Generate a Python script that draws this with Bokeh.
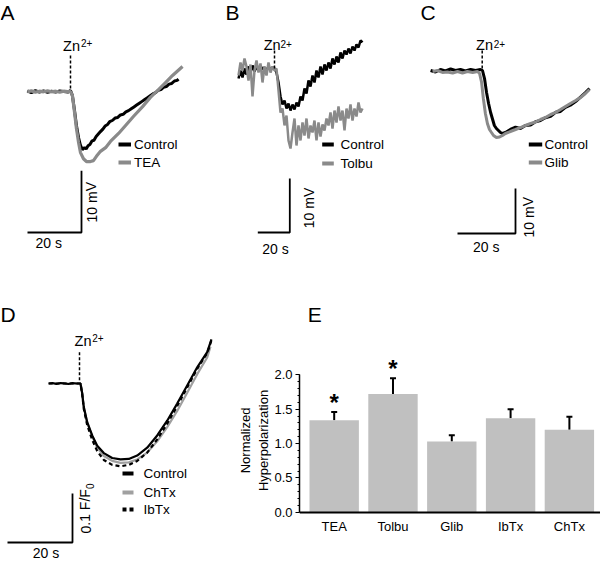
from bokeh.plotting import figure
from bokeh.layouts import row, column
from bokeh.models import (Range1d, SingleIntervalTicker, PrintfTickFormatter,
                          FixedTicker, Whisker, TeeHead, ColumnDataSource)
from bokeh.core.properties import value
from bokeh.embed import file_html
from bokeh.resources import INLINE

# ---------------- data ----------------
# Panel A: membrane potential (mV, relative to baseline) vs time (s, 0 = Zn2+)
A_t_ctrl = [-16, -14.5, -13, -11.5, -10, -8.5, -7, -5.5, -4, -2.5, -1, 0, 0.7, 1.5, 2.2, 3.0, 3.7, 4.4,
            5.2, 5.8, 6.5, 7.2, 8.0, 8.7, 9.5, 10.3, 11.1, 12.0, 12.8, 13.6, 14.5,
            15.5, 16.5, 17.5, 18.5, 19.5, 20.5, 21.5, 22.5, 23.5, 24.5, 25.5, 26.5, 27.5, 28.5, 29.5,
            30.5, 31.5, 32.5, 33.5, 34.5, 35.5, 36.5, 37.5, 38.5, 39.5, 40.0]
A_ctrl = [0.1, -0.2, 0.15, -0.1, 0.1, -0.15, 0.05, -0.1, 0.1, 0.0, -0.1, 0.15, -0.65, -3.1, -5.5, -7.5, -8.75, -9.4,
          -9.1, -9.3, -8.8, -8.6, -8.0, -7.9, -7.3, -6.9, -6.5, -6.1, -5.6, -5.4, -4.9,
          -4.7, -4.3, -4.2, -3.8, -3.7, -3.3, -3.1, -2.8, -2.5, -2.2, -1.9, -1.6, -1.3, -1.0, -0.7,
          -0.4, -0.2, 0.2, 0.3, 0.7, 0.8, 1.2, 1.3, 1.7, 1.8, 2.0]
A_t_tea = [-16, -14.5, -13, -11.5, -10, -8.5, -7, -5.5, -4, -2.5, -1, 0, 0.7, 1.5, 2.2, 3.0, 3.7, 4.8, 5.9,
           7.4, 8.5, 9.6, 11.1, 13.0, 14.8, 17.8, 20.4, 23.3, 26.7, 29.6, 32.6, 35.2, 37.8, 41.5]
A_tea = [-0.05, 0.1, -0.1, 0.05, -0.05, 0.1, -0.05, 0.05, -0.1, 0.05, 0.0, 0.0, -0.65, -3.4, -6.0, -8.3, -9.9,
         -10.9, -11.35, -11.35, -11.2, -10.5, -9.7, -9.1, -8.1, -6.8, -5.5, -4.05, -2.45, -0.95, 0.3, 1.45,
         2.6, 4.05]

# Panel B
B_t = [-22.5, -21.25, -20.0, -18.75, -17.5, -16.25, -15.0, -13.75, -12.5, -11.25, -10.0, -8.75, -7.5,
       -6.25, -5.0, -3.75, -2.5, -1.25, 0.0, 1.25, 2.5, 3.75, 5.0, 6.25, 7.5, 8.75, 10.0, 11.25, 12.5,
       13.75, 15.0, 16.25, 17.5, 18.75, 20.0, 21.25, 22.5, 23.75, 25.0, 26.25, 27.5, 28.75, 30.0, 31.25,
       32.5, 33.75, 35.0, 36.25, 37.5, 38.75, 40.0, 41.25, 42.5, 43.75, 45.0, 46.25, 47.5, 48.75, 50.0,
       51.25, 52.5, 53.75, 55.0]
B_ctrl = [-1.11, 0.37, -0.93, 0.74, -0.37, 1.11, 0.0, 1.30, 0.19, 1.11, 0.37, 1.30, 0.56, 0.93, 0.37, 1.11,
          0.56, 0.93, 0.74, 0.0, -1.85, -4.44, -5.93, -5.19, -6.67, -5.74, -7.04, -5.93, -6.85, -5.56,
          -6.30, -4.44, -5.19, -2.96, -3.89, -1.48, -2.59, -0.56, -1.85, 0.37, -0.93, 1.11, -0.37, 1.48,
          0.37, 1.85, 0.74, 2.59, 1.48, 2.96, 1.85, 3.70, 2.59, 4.07, 3.33, 4.44, 3.52, 4.81, 4.07, 5.19,
          4.63, 5.93, 5.56]
B_tolbu = [-0.56, 1.85, 0.37, 2.59, 1.11, -1.48, 1.48, -4.44, 0.37, 2.22, 0.0, 1.67, -1.85, 1.11, -0.56,
           1.85, 0.0, 1.11, 0.37, 0.74, -3.33, -7.41, -6.67, -9.81, -7.96, -12.59, -14.07, -11.11, -8.52,
           -13.52, -9.81, -12.59, -9.26, -11.67, -8.52, -12.22, -9.81, -11.11, -8.89, -12.59, -9.26,
           -11.85, -9.63, -10.74, -8.52, -9.81, -7.41, -10.37, -7.04, -9.26, -6.30, -8.89, -7.04, -10.74,
           -6.67, -8.52, -5.93, -8.89, -6.67, -8.15, -5.56, -7.41, -6.67]

# Panel C
C_t_ctrl = [-17.8, -16.1, -14.4, -12.7, -10.9, -9.2, -7.5, -5.8, -4.0, -2.3, -0.6, 0.1, 0.8, 1.5, 2.2, 2.9,
            3.6, 4.2, 4.9, 5.6, 6.3, 7.0, 8.0, 9.7, 11.5, 13.2, 14.9, 16.7, 18.4, 20.1, 21.8, 23.6, 25.3,
            27.0, 28.7, 30.4, 32.2, 33.9, 35.6, 37.0]
C_ctrl = [0.0, -0.33, 0.22, -0.11, 0.33, 0.0, 0.22, -0.11, 0.22, 0.0, 0.22, 0.0, -1.78, -4.89, -7.33, -9.33,
          -10.89, -12.22, -12.89, -13.33, -13.78, -14.0, -13.78, -13.11, -12.6, -12.9, -12.2, -12.1, -11.4,
          -11.1, -10.5, -10.2, -9.3, -9.1, -8.2, -7.7, -6.9, -5.9, -4.9, -4.0]
C_t_glib = [-17.1, -15.4, -13.7, -12.0, -10.2, -8.5, -6.8, -5.1, -3.3, -1.6, -0.9, -0.2, 0.4, 1.1, 1.8, 2.5,
            3.2, 3.9, 4.9, 6.0, 7.0, 8.0, 9.7, 11.5, 13.2, 14.9, 16.7, 18.4, 20.1, 21.8, 23.6, 25.3, 27.0,
            28.7, 30.4, 32.2, 33.9, 35.6, 37.0]
C_glib = [-0.22, 0.0, -0.44, -0.33, -0.56, -0.22, -0.56, -0.22, -0.44, -0.22, -0.67, -2.67, -6.22, -9.56,
          -11.78, -13.11, -13.78, -14.44, -14.89, -14.78, -14.44, -14.0, -13.56, -13.11, -12.67, -12.22,
          -11.78, -11.44, -10.89, -10.44, -9.78, -9.33, -8.67, -8.0, -7.33, -6.67, -6.0, -5.11, -4.22]

# Panel D: fluorescence (F/F0 change) vs time (s)
D_t_ctrl = [-9.5, -8.3, -7.1, -5.8, -4.6, -3.4, -2.2, -0.9, 0.3, 0.83, 1.32, 2.37, 3.91, 5.45, 7.48, 10.06,
            12.62, 15.17, 17.75, 20.83, 23.91, 26.98, 30.06, 33.14, 36.22, 39.29, 40.6]
D_ctrl = [0.0, 0.001, -0.001, 0.001, 0.0, -0.001, 0.001, 0.0, 0.0, -0.020, -0.048, -0.079, -0.106, -0.127,
          -0.142, -0.152, -0.155, -0.154, -0.147, -0.131, -0.106, -0.076, -0.041, -0.004, 0.033, 0.064, 0.090]
D_t_chtx = [-9.2, -7.0, -5.0, -3.0, -1.0, 0.3, 0.83, 1.32, 2.37, 3.91, 5.45, 7.48, 10.06, 12.62, 15.17, 17.75,
            20.83, 23.91, 26.98, 30.06, 33.14, 36.22, 39.29, 40.3]
D_chtx = [0.0, 0.0, 0.001, -0.001, 0.0, 0.0, -0.020, -0.048, -0.080, -0.108, -0.131, -0.148, -0.158, -0.162,
          -0.161, -0.155, -0.141, -0.118, -0.089, -0.056, -0.019, 0.019, 0.053, 0.075]
D_t_ibtx = [-9.5, -7.0, -4.5, -2.0, 0.3, 0.83, 1.32, 2.37, 3.91, 5.45, 7.48, 10.06, 12.62, 15.17, 17.75, 20.83,
            23.91, 26.98, 30.06, 33.14, 36.22, 39.29, 40.6]
D_ibtx = [0.0, 0.0, 0.0, 0.0, 0.0, -0.022, -0.052, -0.085, -0.115, -0.138, -0.156, -0.166, -0.169, -0.166,
          -0.158, -0.141, -0.114, -0.082, -0.046, -0.008, 0.030, 0.062, 0.088]

# Panel E
E_cats = ["TEA", "Tolbu", "Glib", "IbTx", "ChTx"]
E_vals = [1.34, 1.72, 1.03, 1.37, 1.20]
E_sem = [0.12, 0.23, 0.09, 0.13, 0.19]
E_sig = ["*", "*", "", "", ""]

# scale bar sizes
SB_T = 20      # s
SB_V = 10      # mV
SB_F = 0.1     # F/F0

# ---------------- styling ----------------
FONT = "Liberation Sans"
GRAY = "#8a8a8a"
LGRAY = "#a0a0a0"
BAR = "#c0c0c0"
ROT = 1.5708


def make_panel(w, h, x0, y0, sx, sy):
    p = figure(width=w, height=h,
               x_range=Range1d((0 - x0) / sx, (w - x0) / sx),
               y_range=Range1d((y0 - h) / sy, y0 / sy),
               x_axis_type=None, y_axis_type=None,
               output_backend="svg", toolbar_location=None, min_border=0)
    p.outline_line_color = None

    def X(px):
        return (px - x0) / sx

    def Y(py):
        return (y0 - py) / sy
    return p, X, Y


def put_text(p, x, y, s, size, align="left", angle=0.0):
    # y is the visual middle of the text
    p.text(x=[x], y=[y], text=[s], text_font=value(FONT),
           text_font_size=value(f"{size}px"), text_align=align,
           text_baseline="middle", angle=angle, text_color="black")


def zn_marker(p, X, Y, ltop, lbot, zcx, zmid, sx2, smid):
    p.line([0, 0], [Y(ltop), Y(lbot)], line_color="black", line_width=1.5, line_dash="3 2")
    put_text(p, X(zcx), Y(zmid), "Zn", 14.5, align="center")
    put_text(p, X(sx2), Y(smid), "2+", 10)


def scale_bar(p, X, Y, cx, cy, tlen, vlen):
    xc, yc = X(cx), Y(cy)
    p.line([xc - tlen, xc, xc], [yc, yc, yc + vlen], line_color="black", line_width=1.8)


def legend_entry(p, X, Y, x1, x2, y, xt, label, color, dash="solid", lw=4.0):
    p.line([X(x1), X(x2)], [Y(y), Y(y)], line_color=color, line_width=lw, line_dash=dash)
    put_text(p, X(xt), Y(y), label, 13.5)


TOP_H = 290
BOT_H = 271

# ---- Panel A ----
pA, X, Y = make_panel(200, TOP_H, 70, 91, 2.7, 6.17)
pA.line(A_t_ctrl, A_ctrl, line_color="black", line_width=3.0)
pA.line(A_t_tea, A_tea, line_color=GRAY, line_width=3.2)
put_text(pA, X(0), Y(12), "A", 21)
zn_marker(pA, X, Y, 55, 90, 71, 45.5, 80.5, 42)
legend_entry(pA, X, Y, 118, 130.5, 144, 133.5, "Control", "black")
legend_entry(pA, X, Y, 118, 130.5, 162, 133.5, "TEA", GRAY)
scale_bar(pA, X, Y, 81, 232, SB_T, SB_V)
put_text(pA, X(48.3), Y(242), "20 s", 14, align="center")
put_text(pA, X(91), Y(201.7), "10 mV", 14, align="center", angle=ROT)

# ---- Panel B ----
pB, X, Y = make_panel(200, TOP_H, 74, 72, 1.6, 5.4)
pB.line(B_t, B_ctrl, line_color="black", line_width=2.5)
pB.line(B_t, B_tolbu, line_color=GRAY, line_width=2.5)
put_text(pB, X(25), Y(12), "B", 21)
zn_marker(pB, X, Y, 50, 68, 71.7, 44.8, 80, 43)
legend_entry(pB, X, Y, 121.7, 133.3, 144, 140, "Control", "black")
legend_entry(pB, X, Y, 121.7, 133.3, 163, 140, "Tolbu", GRAY)
scale_bar(pB, X, Y, 89.3, 232, SB_T, SB_V)
put_text(pB, X(75), Y(248), "20 s", 14, align="center")
put_text(pB, X(108.3), Y(207.5), "10 mV", 14, align="center", angle=ROT)

# ---- Panel C ----
pC, X, Y = make_panel(200, TOP_H, 81.7, 70, 2.9, 4.5)
pC.line(C_t_ctrl, C_ctrl, line_color="black", line_width=3.0)
pC.line(C_t_glib, C_glib, line_color=GRAY, line_width=3.0)
put_text(pC, X(20), Y(12.3), "C", 21)
zn_marker(pC, X, Y, 50, 68, 84, 44.8, 93.3, 43.3)
legend_entry(pC, X, Y, 128.3, 141.7, 144, 144, "Control", "black")
legend_entry(pC, X, Y, 128.3, 141.7, 162, 144, "Glib", GRAY)
scale_bar(pC, X, Y, 115, 233, SB_T, SB_V)
put_text(pC, X(85.7), Y(246.2), "20 s", 14, align="center")
put_text(pC, X(128), Y(216.7), "10 mV", 14, align="center", angle=ROT)

# ---- Panel D ----
pD, X, Y = make_panel(220, BOT_H, 79, 93, 3.25, 490.0)
pD.line(D_t_chtx, D_chtx, line_color=LGRAY, line_width=2.2)
pD.line(D_t_ctrl, D_ctrl, line_color="black", line_width=2.2)
pD.line(D_t_ibtx, D_ibtx, line_color="black", line_width=2.2, line_dash="4 3")
put_text(pD, X(0), Y(24.2), "D", 21)
zn_marker(pD, X, Y, 61.7, 91.7, 82.5, 50.5, 91.7, 47)
legend_entry(pD, X, Y, 122, 133, 183, 143, "Control", "black")
legend_entry(pD, X, Y, 122, 133, 202, 143, "ChTx", LGRAY)
legend_entry(pD, X, Y, 122, 133, 219, 143, "IbTx", "black", dash="4 3")
scale_bar(pD, X, Y, 72, 252, SB_T, SB_F)
put_text(pD, X(45.5), Y(262.5), "20 s", 14, align="center")
put_text(pD, X(85), Y(243), "0.1 F/F", 14, angle=ROT)
put_text(pD, X(89.5), Y(198.6), "0", 10, angle=ROT)

# ---- Panel E ----
EW, EH = 380, BOT_H
EL = 79                 # frame left offset (axis at x=299 in the page)
PX_CAT, PX_UNIT = 58.8, 68.65
Y0 = 221.7              # pixel row (from panel top) of value 0
x_start = -0.59
x_end = x_start + (EW - EL) / PX_CAT
y_start = -(EH - Y0) / PX_UNIT
y_end = Y0 / PX_UNIT


def EX(px):
    return x_start + (px - EL) / PX_CAT


def EY(py):
    return (Y0 - py) / PX_UNIT


pE = figure(width=EW, height=EH, x_range=Range1d(x_start, x_end), y_range=Range1d(y_start, y_end),
            output_backend="svg", toolbar_location=None,
            min_border_left=EL, min_border_right=0, min_border_top=0, min_border_bottom=0)
pE.grid.visible = False
pE.outline_line_color = None

xs = list(range(len(E_cats)))
upper = [v + e for v, e in zip(E_vals, E_sem)]
pE.vbar(x=xs, top=E_vals, bottom=0, width=0.84, fill_color=BAR, line_color=None)
src = ColumnDataSource(dict(x=xs, lo=E_vals, hi=upper))
pE.add_layout(Whisker(source=src, base="x", lower="lo", upper="hi", dimension="height",
                      line_color="black", line_width=2, lower_head=None,
                      upper_head=TeeHead(size=6, line_color="black", line_width=2)))
sx_ = [x for x, s in zip(xs, E_sig) if s]
sy_ = [u + 0.14 for u, s in zip(upper, E_sig) if s]
st_ = [s for s in E_sig if s]
pE.text(x=sx_, y=sy_, text=st_, text_font=value(FONT), text_font_size=value("24px"),
        text_align="center", text_baseline="alphabetic", text_font_style="bold", text_color="black")
pE.text(x=[EX(87.3)], y=[EY(24.3)], text=["E"], text_font=value(FONT), text_font_size=value("21px"),
        text_baseline="middle", text_color="black")

xa = pE.xaxis[0]
xa.fixed_location = 0
xa.ticker = FixedTicker(ticks=xs)
xa.major_label_overrides = {i: c for i, c in zip(xs, E_cats)}
xa.major_tick_out = 0
xa.major_tick_in = 0
xa.minor_tick_out = 0
xa.minor_tick_in = 0
xa.axis_line_width = 2
xa.major_label_standoff = 7
xa.major_label_text_font = FONT
xa.major_label_text_font_size = "13px"
xa.major_label_text_color = "black"

ya = pE.yaxis[0]
ya.ticker = SingleIntervalTicker(interval=0.5, num_minor_ticks=5)
ya.formatter = PrintfTickFormatter(format="%.1f")
ya.bounds = (0, 2)
ya.major_tick_out = 4
ya.major_tick_in = 0
ya.minor_tick_out = 2
ya.minor_tick_in = 0
ya.axis_line_width = 1.5
ya.major_tick_line_width = 1.2
ya.major_label_standoff = 3
ya.major_label_text_font = FONT
ya.major_label_text_font_size = "13px"
ya.major_label_text_color = "black"
# two-line title; trailing no-break spaces move it down so it is centred on the 0-2 span
PAD = "\u00a0" * 8
ya.axis_label = "Normalized" + PAD + "\n" + "Hyperpolarization" + PAD
ya.axis_label_text_font = FONT
ya.axis_label_text_font_style = "normal"
ya.axis_label_text_font_size = "13px"
ya.axis_label_text_color = "black"
ya.axis_label_standoff = 0

layout = column(row(pA, pB, pC), row(pD, pE))
open("out.html", "w").write(file_html(layout, INLINE))
